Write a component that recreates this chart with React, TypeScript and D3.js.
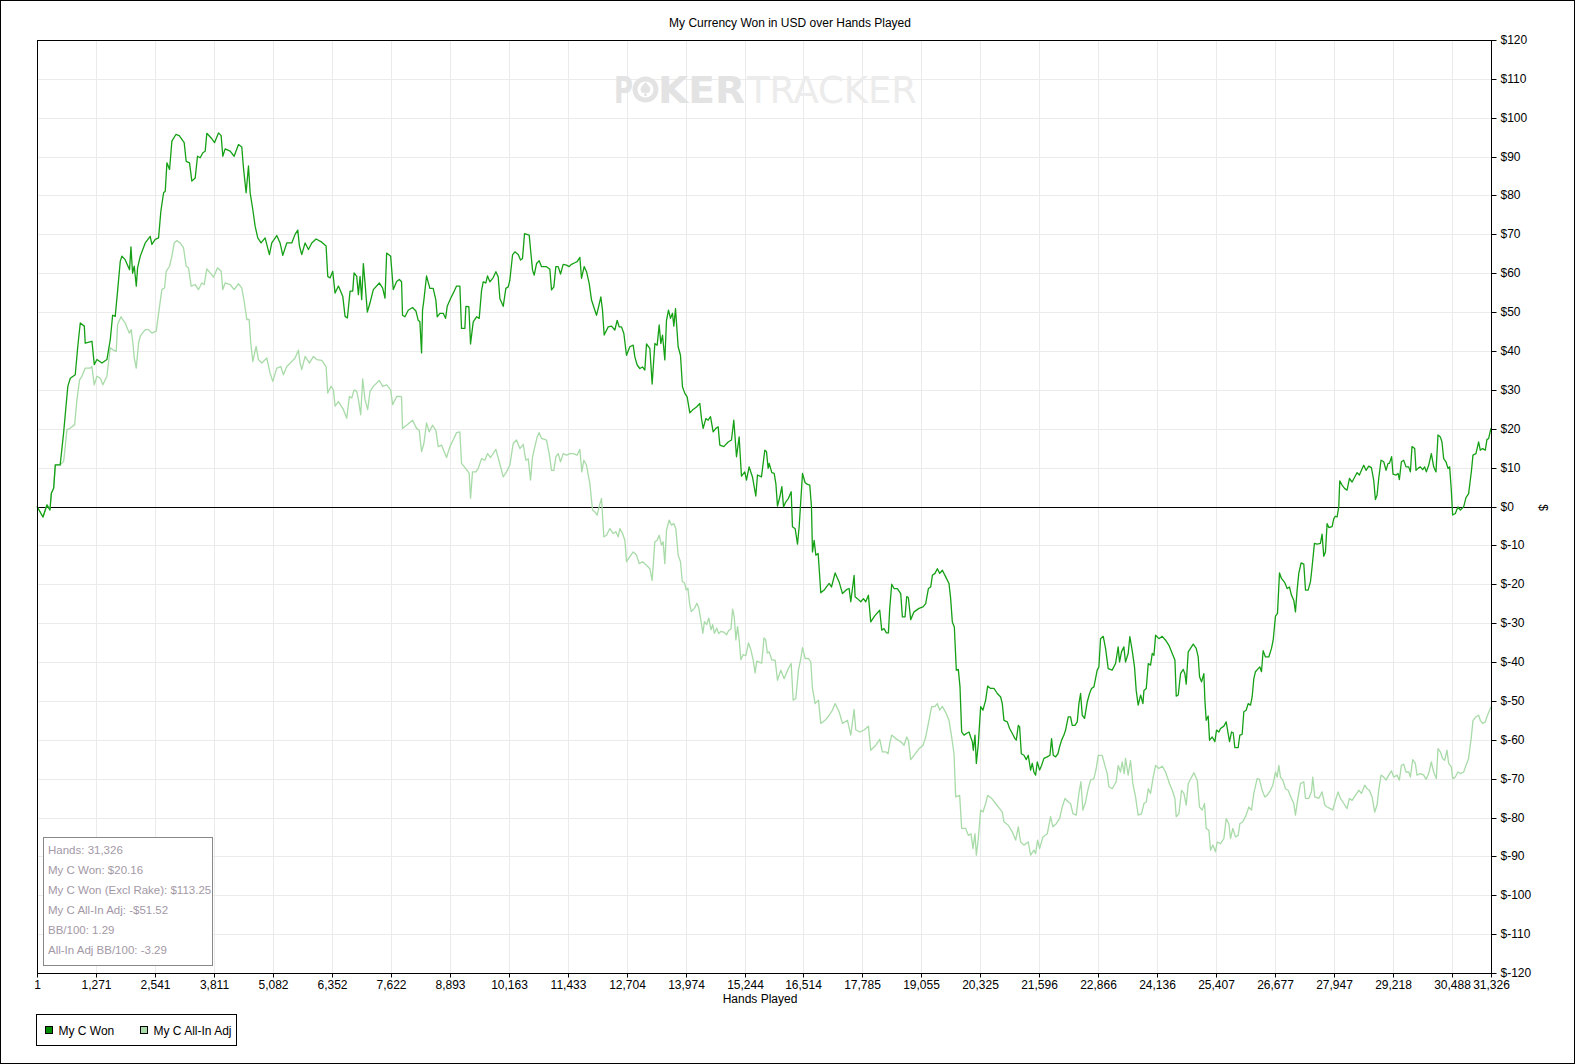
import { useEffect, useRef } from 'react'
import * as d3 from 'd3'

const chartTitle = 'My Currency Won in USD over Hands Played'
const xTitle = 'Hands Played'
const yTitle = '$'

const xTicks = [1, 1271, 2541, 3811, 5082, 6352, 7622, 8893, 10163, 11433, 12704, 13974, 15244, 16514, 17785, 19055, 20325, 21596, 22866, 24136, 25407, 26677, 27947, 29218, 30488, 31326]
const yTicks = [-120, -110, -100, -90, -80, -70, -60, -50, -40, -30, -20, -10, 0, 10, 20, 30, 40, 50, 60, 70, 80, 90, 100, 110, 120]

const statsLines = [
  'Hands: 31,326',
  'My C Won: $20.16',
  'My C Won (Excl Rake): $113.25',
  'My C All-In Adj: -$51.52',
  'BB/100: 1.29',
  'All-In Adj BB/100: -3.29',
]

const seriesNames = ['My C Won', 'My C All-In Adj']

// [hand, dollars]
const wonPoints: [number, number][] = [
  [1, 0], [130, -2.7], [215, 0.4], [280, -0.9], [310, 3.4], [360, 4.7], [395, 10.7], [500, 10.7], [575, 19], [625, 25.7], [665, 30.9], [718, 33], [825, 33.9], [883, 41.6], [933, 47.2], [1020, 46.4], [1040, 42], [1185, 42.5], [1235, 36.5], [1292, 37.8], [1400, 36.9], [1507, 37.8], [1580, 42.9], [1630, 49.2], [1686, 48.9], [1737, 55.4], [1795, 63.1], [1830, 64.4], [1900, 63.5], [1995, 60.9], [2025, 66.8], [2060, 60], [2096, 61.8], [2140, 56.7], [2168, 61.4], [2226, 64.4], [2333, 67.8], [2440, 69.5], [2476, 67.4], [2548, 68.7], [2620, 69.1], [2670, 76], [2728, 80.7], [2764, 81.1], [2800, 88.4], [2857, 86.7], [2907, 94], [2993, 95.7], [3065, 95.4], [3172, 93.6], [3215, 88.8], [3287, 88.4], [3337, 83.7], [3409, 84.5], [3459, 90.1], [3517, 89.7], [3574, 91], [3624, 91.4], [3660, 96], [3768, 94.6], [3825, 93.6], [3911, 96.1], [3968, 95.4], [4004, 90.1], [4054, 92], [4162, 91.4], [4248, 90.1], [4342, 93.1], [4413, 92.5], [4449, 87.1], [4506, 80.7], [4557, 87.6], [4593, 80.7], [4650, 76.4], [4700, 72.1], [4757, 69.1], [4829, 67.8], [4915, 69.1], [5008, 64.8], [5059, 67.8], [5167, 69.7], [5238, 67.8], [5296, 64.6], [5382, 67.8], [5490, 67.8], [5561, 70], [5619, 71.1], [5655, 67], [5705, 64.8], [5777, 67.8], [5849, 66.1], [5921, 67.8], [6014, 68.8], [6136, 68], [6229, 67], [6265, 59.2], [6315, 58.8], [6372, 60.5], [6423, 54.9], [6495, 56.7], [6588, 54.1], [6638, 48.9], [6688, 48.5], [6746, 55.4], [6803, 55.4], [6832, 60.1], [6889, 59.2], [6925, 54.5], [6961, 59.2], [6996, 53.2], [7032, 62.5], [7068, 57.5], [7118, 50], [7176, 52.4], [7247, 55.8], [7376, 57.5], [7448, 56.2], [7498, 53.6], [7534, 65.2], [7620, 64.4], [7677, 55.8], [7749, 57.9], [7807, 58.4],
  [7855, 57.8], [7876, 49.2], [7927, 48.8], [7999, 50.5], [8092, 51.2], [8164, 50.3], [8214, 47.9], [8250, 47.5], [8286, 39.5], [8307, 50.5], [8336, 53.1], [8393, 59.3], [8465, 56.1], [8537, 56.1], [8594, 53.1], [8623, 48.8], [8681, 49.7], [8752, 49.7], [8803, 48.4], [8839, 51.5], [8911, 53.5], [8982, 55.2], [9040, 56.7], [9111, 56.7], [9147, 45.8], [9219, 45.8], [9241, 51.5], [9305, 51.4], [9341, 41.8], [9399, 47.5], [9470, 48.8], [9528, 48.4], [9578, 55.5], [9614, 57.8], [9671, 57.5], [9707, 59.3], [9758, 57.8], [9830, 58.9], [9887, 60.4], [9937, 59.1], [9973, 53.5], [10045, 51.5], [10102, 56.1], [10153, 56.5], [10188, 58.2], [10246, 64.7], [10296, 65.5], [10368, 64.8], [10418, 63.4], [10461, 63.8], [10504, 70.2], [10605, 69.8], [10634, 66.1], [10677, 60.8], [10713, 59.5], [10763, 62.5], [10820, 63.2], [10871, 61.7], [10978, 61.7], [11050, 61], [11086, 55.7], [11136, 56.5], [11179, 61.7], [11230, 61.7], [11280, 59.8], [11337, 62.3], [11409, 62.1], [11466, 61.7], [11517, 62.3], [11588, 62.7], [11639, 63], [11696, 64.1], [11732, 58.7], [11789, 61.7], [11840, 60.4], [11897, 57.4], [11948, 53.1], [12019, 50.5], [12055, 49.2], [12091, 50.9], [12149, 53.9], [12184, 50.5], [12220, 44.1], [12307, 46.2], [12378, 46.4], [12450, 45.4], [12500, 47.9], [12543, 46.2], [12594, 46.2], [12644, 44.5], [12701, 38.9], [12773, 41.1], [12845, 41.5], [12881, 38.5], [12931, 36.4], [12989, 35.5], [13046, 35.9], [13096, 35.1], [13132, 41.8], [13204, 40.7], [13254, 31.5], [13312, 41.9], [13362, 41.5], [13405, 46.7], [13441, 41.9], [13477, 44.1], [13527, 37.7], [13563, 47.9], [13606, 50.5], [13649, 48.4], [13692, 49.7], [13721, 46.4], [13757, 50.9], [13814, 41.1], [13864, 38.9], [13907, 30.8], [13958, 29.1], [14008, 28.2], [14065, 24.1], [14123, 24.8], [14209, 25.6], [14281, 26.5], [14317, 22.6], [14353, 20.1], [14410, 22.6], [14460, 22.2], [14511, 23.1], [14568, 19.2], [14626, 20.1], [14676, 20.5], [14712, 15.8], [14798, 15.4], [14891, 16.6], [14963, 17.1], [15013, 22.2], [15071, 12.8], [15128, 17.9], [15178, 7.8], [15250, 8.9], [15286, 6.8], [15343, 10.2], [15415, 7.6], [15487, 2.7], [15523, 8.1], [15609, 7.6], [15681, 14.5], [15717, 14.1], [15753, 9.8],
  [15775, 11.1], [15832, 8.7], [15883, 8.5], [15919, 5.9], [15954, 0.1], [16005, 2.5], [16048, 5.1], [16084, -0.1], [16134, 1.2], [16191, 2.1], [16249, 3.8], [16277, -5.2], [16335, -5.7], [16385, -9.7], [16421, -5.2], [16457, 1.6], [16493, 8.5], [16550, 6.1], [16600, 5.7], [16650, 5.5], [16686, -0.1], [16708, -11.7], [16744, -8.7], [16780, -12.5], [16830, -12.1], [16887, -22.2], [16959, -21.5], [17009, -20.7], [17067, -19.8], [17117, -20.7], [17196, -17.1], [17282, -19.4], [17354, -22.4], [17440, -21.4], [17497, -21.1], [17533, -24.5], [17605, -17.7], [17626, -23.2], [17676, -23.7], [17748, -24.5], [17805, -23.7], [17856, -24.5], [17913, -22.8], [17963, -29.7], [18057, -28], [18157, -26.7], [18200, -31.8], [18250, -31.4], [18301, -32.5], [18344, -32.5], [18372, -26.2], [18415, -20], [18466, -21.1], [18537, -21.1], [18609, -22.4], [18645, -28.4], [18702, -28.4], [18738, -23.2], [18774, -23.4], [18824, -29.1], [18896, -27.1], [19004, -26.2], [19090, -25.8], [19147, -25], [19205, -21.1], [19255, -20.7], [19291, -17.7], [19348, -17.2], [19398, -16], [19449, -17.2], [19506, -16.4], [19578, -18.1], [19649, -19.8], [19685, -23.7], [19721, -29.7], [19764, -31], [19807, -42.1], [19850, -41.9], [19886, -46.4], [19922, -58], [19972, -58.8], [20023, -58.4], [20080, -58], [20116, -59.3], [20152, -60.5], [20173, -62.7], [20209, -58.8], [20238, -66.1], [20281, -61], [20331, -51.5], [20381, -52.4], [20439, -49.8], [20482, -46.2], [20546, -46.8], [20618, -46.8], [20690, -48.1], [20762, -49], [20797, -50.7], [20833, -55], [20905, -55.4], [20955, -57.1], [21013, -58.4], [21070, -59.7], [21099, -60.1], [21142, -56.3], [21171, -56.7], [21207, -63.6], [21264, -64], [21314, -65.1], [21357, -64], [21407, -67.8], [21443, -66.1], [21479, -68.3], [21515, -69.1], [21551, -65.7], [21601, -67.8], [21644, -66.6], [21694, -64.8], [21766, -64.4], [21824, -64], [21859, -59.7], [21895, -64], [21946, -64.4], [21996, -63.6], [22032, -61.8], [22075, -60.1], [22125, -58.8], [22161, -57.5], [22218, -54.1], [22268, -54.1], [22304, -56.3], [22362, -56.3], [22412, -55.4], [22448, -50.7], [22484, -48.1], [22520, -53.7], [22570, -54.5], [22627, -50.3], [22677, -48.1], [22720, -46.8], [22771, -46.4], [22842, -42.1], [22878, -41.3], [22914, -34], [22972, -33.4], [23022, -36.5], [23079, -41.7], [23165, -42.1], [23237, -40.4], [23294, -36.1], [23323, -40], [23366, -37.4], [23416, -36.1], [23452, -40], [23509, -37.8], [23545, -33.5], [23596, -37], [23646, -41.3], [23682, -47.3], [23725, -51.1],
  [23777, -48.5], [23827, -50.7], [23849, -47.3], [23899, -46.8], [23942, -40.4], [23992, -40.8], [24028, -37.8], [24064, -38.3], [24100, -33.1], [24172, -34], [24243, -33.4], [24315, -34.4], [24387, -35.7], [24459, -37.8], [24516, -39.5], [24545, -48.8], [24588, -48.5], [24638, -43], [24695, -41.9], [24731, -43], [24760, -45.7], [24803, -37.4], [24853, -36.5], [24911, -35.4], [24975, -36.5], [25018, -38.7], [25047, -43.8], [25090, -45.1], [25140, -43], [25162, -49.8], [25190, -55], [25233, -53.9], [25262, -60.1], [25320, -59.3], [25377, -60.5], [25413, -57.5], [25463, -58], [25499, -57.1], [25571, -56.5], [25621, -55.4], [25657, -58], [25693, -60.5], [25736, -58], [25772, -58.2], [25807, -62], [25879, -62], [25915, -58.8], [25965, -58.6], [26001, -52.8], [26051, -52.4], [26094, -50.7], [26145, -51.1], [26180, -49], [26216, -44.3], [26252, -42.5], [26310, -41.7], [26346, -41.3], [26381, -42.5], [26417, -37.1], [26468, -38.7], [26539, -38.7], [26597, -36.5], [26633, -34.4], [26683, -28.2], [26726, -27.5], [26769, -17.1], [26812, -18.5], [26884, -19.6], [26934, -21.1], [26984, -20.7], [27027, -22.8], [27077, -24.1], [27113, -27.1], [27149, -21.5], [27185, -17.2], [27235, -14.5], [27293, -14.8], [27329, -21.5], [27386, -21.5], [27436, -19.4], [27472, -15.5], [27522, -9.5], [27580, -9.7], [27651, -9.5], [27687, -7.1], [27723, -12.8], [27759, -11.7], [27795, -4.4], [27831, -5.4], [27903, -5.2], [27939, -3.1], [27974, -2.5], [28010, -2.7], [28046, -0.1], [28068, 6.6], [28118, 5.5], [28175, 4.6], [28225, 4.2], [28276, 7.2], [28333, 6.3], [28390, 7.6], [28441, 8.7], [28491, 8.1], [28534, 9.3], [28584, 10.6], [28634, 9.3], [28692, 10.4], [28749, 10], [28799, 6.8], [28835, 1.8], [28871, 2.9], [28907, 7.2], [28957, 11.9], [29015, 11.5], [29065, 9.3], [29108, 11.1], [29137, 11.1], [29185, 12.8], [29215, 8.3], [29280, 8.1], [29323, 8.5], [29352, 6.9], [29395, 11.5], [29445, 11.9], [29495, 10.2], [29553, 10.2], [29589, 8.9], [29624, 15.4], [29682, 14.9], [29711, 9.3], [29753, 9.8], [29804, 10.2], [29854, 9.5], [29897, 10.2], [29933, 8.9], [29983, 10.6], [30041, 13.6], [30091, 10.2], [30141, 8.9], [30184, 18.4], [30234, 17.9], [30270, 16.6], [30306, 12.3], [30356, 11.5], [30399, 9.8], [30435, 10.2], [30471, 4.2], [30500, -2.2], [30557, -1.8], [30614, -0.1], [30665, -0.9], [30737, -0.1], [30787, 2.3], [30844, 3.3], [30902, 8.9], [30938, 13.2], [31002, 13.6], [31059, 16.6], [31095, 14.5], [31145, 14.9], [31203, 14.5], [31239, 17.2], [31275, 17.5], [31326, 20.16],
]

const allInPoints: [number, number][] = [
  [1, 0], [130, -2.7], [215, 0.4], [280, -0.9], [310, 3.4], [360, 4.7], [395, 10.7], [500, 10.7], [575, 11.6], [610, 15.5], [646, 19.7], [718, 20.2], [811, 21], [862, 27.5], [919, 32.6], [969, 33.5], [1040, 35.6], [1148, 35.6], [1184, 36], [1234, 31.3], [1292, 33.5], [1364, 33], [1421, 31.3], [1507, 33.5], [1579, 40.8], [1636, 40.3], [1708, 39.9], [1737, 46.8], [1809, 48.8], [1902, 47.2], [1988, 44.6], [2031, 45.5], [2067, 42], [2096, 38.2], [2139, 35.6], [2189, 42], [2225, 43.8], [2333, 45.5], [2405, 45.5], [2476, 44.6], [2570, 45.1], [2641, 51.5], [2691, 55.8], [2749, 56.2], [2785, 60.5], [2857, 61.8], [2907, 64.4], [2957, 67.8], [3014, 68.4], [3086, 67.8], [3158, 66.5], [3215, 61.8], [3265, 61.4], [3322, 56.7], [3409, 57.1], [3480, 55.8], [3552, 57.5], [3602, 57.1], [3660, 61.1], [3732, 60.1], [3804, 59], [3890, 61.4], [3968, 60.5], [4004, 55.8], [4054, 57.5], [4162, 57.1], [4248, 55.8], [4342, 57.3], [4413, 56.2], [4464, 52.8], [4521, 48.1], [4571, 48.1], [4607, 42], [4650, 37.3], [4722, 41.2], [4772, 37.8], [4844, 36.9], [4951, 38.2], [5023, 34.3], [5080, 32.2], [5167, 35.6], [5253, 36], [5310, 33.9], [5382, 36], [5490, 37.3], [5561, 38.2], [5633, 40.2], [5669, 36.9], [5705, 35.2], [5777, 38.6], [5870, 36.9], [5956, 38.6], [6028, 37.8], [6136, 37.6], [6229, 36], [6265, 29.2], [6336, 30.9], [6387, 30], [6423, 25.8], [6495, 27], [6603, 24.9], [6674, 22.7], [6731, 28.3], [6782, 27.9], [6832, 30], [6889, 29.6], [6925, 27.5], [6975, 23.6], [7018, 32.8], [7068, 27.5], [7125, 24.9], [7176, 29.6], [7247, 30.9], [7376, 32.4], [7448, 30.9], [7534, 31.3], [7620, 30], [7663, 26.2], [7749, 28.3], [7821, 28.3],
  [7855, 28.2], [7876, 20.1], [7963, 20.9], [8092, 22.2], [8178, 20.1], [8235, 19.6], [8286, 14.1], [8336, 16.2], [8393, 21.5], [8451, 19.2], [8523, 20.9], [8594, 19.6], [8645, 15.4], [8716, 15.8], [8824, 12.6], [8896, 15.4], [8982, 17.5], [9040, 19], [9111, 19.2], [9147, 11.1], [9255, 9.5], [9312, 8.5], [9341, 2.1], [9384, 8.9], [9456, 8.9], [9507, 9.8], [9578, 12.3], [9650, 11.9], [9707, 13.6], [9772, 12.6], [9887, 14.7], [9951, 11.9], [10045, 7.6], [10117, 8.9], [10188, 10.6], [10260, 16.2], [10332, 17.1], [10404, 14.9], [10476, 16], [10533, 11.9], [10584, 12.3], [10634, 6.8], [10677, 12.8], [10727, 15.4], [10777, 17.9], [10820, 19], [10871, 17.5], [10978, 17.1], [11036, 13.6], [11086, 9.3], [11136, 9.3], [11179, 12.8], [11230, 13.6], [11280, 11.5], [11337, 13.6], [11409, 13.2], [11481, 13.6], [11553, 13.6], [11639, 13.2], [11696, 14.7], [11739, 8.9], [11782, 11.9], [11840, 10.6], [11912, 5.9], [11969, -0.9], [12019, -1.4], [12069, -2.2], [12113, 0], [12163, 2.1], [12213, -7.8], [12270, -7.4], [12342, -5.7], [12414, -6.9], [12472, -6.5], [12522, -7.8], [12558, -5.7], [12615, -6.9], [12666, -8.7], [12701, -14.2], [12773, -12.9], [12845, -11.7], [12917, -12.5], [12974, -14.7], [13046, -14.2], [13132, -15.1], [13204, -16], [13254, -19], [13312, -9.1], [13362, -8.7], [13405, -7.4], [13455, -9.9], [13491, -9.1], [13527, -14.7], [13563, -6.1], [13620, -3.5], [13671, -4.8], [13721, -4.4], [13764, -5.7], [13814, -12.5], [13864, -14.2],
  [13903, -19.3], [13953, -19.7], [13989, -21.5], [14024, -21], [14060, -24.9], [14096, -27], [14167, -26.2], [14217, -24.9], [14260, -26.2], [14309, -29.6], [14345, -32.6], [14381, -29.6], [14431, -30.4], [14473, -28.7], [14523, -31.7], [14559, -30.4], [14595, -32.6], [14645, -31.3], [14687, -32.7], [14737, -32.1], [14809, -32.4], [14859, -33], [14901, -31.9], [14951, -31.5], [14987, -26.4], [15022, -28.3], [15058, -34.3], [15094, -30.9], [15129, -34.3], [15165, -39.4], [15215, -38.1], [15272, -38.4], [15329, -35.1], [15379, -36.8], [15429, -39.4], [15472, -42.8], [15507, -39.8], [15571, -40.1], [15614, -40.3], [15664, -33.8], [15700, -34.3], [15735, -37.7],
  [15775, -37.4], [15832, -39.5], [15904, -39.5], [15954, -44.7], [16026, -42.1], [16098, -44.3], [16170, -42.1], [16249, -40.4], [16292, -49.8], [16349, -49.4], [16406, -42.1], [16457, -39.1], [16493, -36.3], [16550, -39.1], [16622, -39.1], [16672, -40], [16708, -46.8], [16765, -50.7], [16837, -49.8], [16887, -55.8], [16980, -55], [17067, -53.7], [17138, -52.4], [17196, -50.7], [17282, -52.8], [17354, -55.8], [17461, -55], [17533, -58.8], [17605, -52.2], [17641, -57.5], [17727, -58], [17820, -57.5], [17913, -56.5], [17963, -62.7], [18071, -61.4], [18157, -59.9], [18214, -63.1], [18286, -63.1], [18336, -63.6], [18372, -61], [18415, -58.8], [18501, -59.7], [18609, -60.5], [18681, -61.4], [18738, -59.3], [18774, -60.1], [18824, -65.1], [18896, -64], [19004, -62.3], [19090, -61.4], [19147, -59.3], [19205, -55.8], [19276, -51.5], [19341, -51.5], [19398, -50.7], [19449, -52.4], [19506, -51.4], [19592, -53.3], [19649, -55], [19707, -59.3], [19757, -63.6], [19793, -74.7], [19879, -74.3], [19922, -82.8], [20008, -82.8], [20066, -84.6], [20123, -84.2], [20166, -88], [20209, -84.2], [20238, -89.7], [20281, -85.4], [20331, -78.1], [20381, -78.6], [20439, -76.4], [20482, -74.3], [20568, -75.1], [20654, -76.4], [20740, -77.7], [20797, -78.6], [20833, -81.1], [20926, -82], [21013, -83.7], [21085, -85.8], [21142, -82.4], [21192, -86.3], [21264, -87.1], [21357, -86.3], [21407, -89.7], [21479, -88.4], [21515, -89.3], [21558, -85.8], [21601, -88], [21673, -85], [21766, -84.2], [21838, -79.8], [21888, -82.4], [21960, -81.6], [22032, -80.3], [22089, -77.3], [22147, -75.1], [22218, -76], [22268, -76.4], [22319, -79], [22390, -79.4], [22448, -73.8], [22491, -70.8], [22534, -78.1], [22591, -76], [22648, -72.6], [22699, -70.4], [22771, -70], [22821, -67.4], [22864, -64], [22950, -64], [23007, -66.6], [23058, -68.7], [23094, -72.1], [23165, -72.6], [23251, -70.8], [23294, -66.6], [23344, -68.3], [23380, -65.7], [23424, -68.7], [23452, -64.8], [23509, -69.1], [23560, -65.3], [23610, -71.3], [23668, -74.7], [23725, -79.4],
  [23798, -79], [23849, -76.4], [23899, -76], [23942, -72.6], [23992, -73.8], [24042, -70], [24100, -66.6], [24172, -67.4], [24243, -66.8], [24315, -68.3], [24401, -71.3], [24459, -73], [24516, -75.1], [24545, -79.8], [24602, -79], [24659, -73], [24710, -73.8], [24760, -76.8], [24803, -71.3], [24875, -69.6], [24925, -68.5], [24997, -70.4], [25047, -77.3], [25104, -78.1], [25154, -76.4], [25190, -82.8], [25248, -83.3], [25284, -88.4], [25334, -87.1], [25391, -88.8], [25427, -86.3], [25499, -86.7], [25571, -85.4], [25621, -80.3], [25678, -81.6], [25714, -85.4], [25764, -82.8], [25822, -85], [25879, -84.6], [25915, -81.6], [25979, -81.1], [26051, -79.4], [26109, -77.3], [26166, -78.1], [26216, -73.8], [26288, -70], [26338, -70.2], [26396, -73], [26453, -74.7], [26503, -74.3], [26575, -73], [26625, -71.7], [26683, -68.3], [26719, -69.6], [26755, -66.6], [26790, -69.6], [26841, -70.4], [26898, -72.6], [26955, -73], [27027, -75.1], [27077, -76.4], [27113, -79.4], [27171, -74.7], [27221, -71.3], [27293, -70.8], [27329, -75.1], [27400, -75.1], [27458, -73.4], [27486, -69.6], [27529, -74.7], [27615, -75.1], [27687, -73.4], [27745, -76.8], [27795, -77.3], [27867, -77.7], [27917, -78.1], [27974, -75.6], [28032, -73.4], [28082, -75.1], [28154, -76.4], [28225, -77.7], [28276, -75.1], [28333, -75.6], [28405, -74.3], [28477, -73], [28534, -73.8], [28606, -71.7], [28656, -72.6], [28706, -73], [28764, -74.7], [28821, -78.6], [28871, -76.8], [28907, -73], [28957, -69.1], [29015, -69.6], [29065, -70.4], [29123, -69.1], [29180, -68], [29230, -69.6], [29302, -69.1], [29352, -70.4], [29395, -66.6], [29445, -66.3], [29495, -68.3], [29553, -68.3], [29589, -69.6], [29639, -65.1], [29696, -66.1], [29732, -69.1], [29804, -68.7], [29876, -69.1], [29926, -70.2], [29983, -68.7], [30041, -65.7], [30091, -68.3], [30148, -70], [30184, -62.3], [30234, -63.1], [30284, -64.8], [30328, -65.3], [30378, -62.7], [30414, -66.1], [30471, -67], [30500, -70], [30557, -69.6], [30614, -68.3], [30665, -68.7], [30737, -68.3], [30787, -66.6], [30844, -64.8], [30902, -59.3], [30938, -55], [31002, -54.1], [31059, -53.7], [31095, -55], [31145, -55.8], [31203, -55.4], [31239, -54.1], [31326, -51.52],
]

const WON_COLOR = '#15a015'
const ALLIN_COLOR = '#a8dba8'
const FONT = 'Liberation Sans, Arial, sans-serif'

export default function App() {
  const svgRef = useRef<SVGSVGElement>(null)

  useEffect(() => {
    if (!svgRef.current) return
    const svg = d3.select(svgRef.current)
    svg.selectAll('*').remove()

    const W = 1575
    const H = 1064
    const plot = { left: 37, right: 1491, top: 40, bottom: 973 }

    svg.attr('width', W).attr('height', H)

    svg.append('rect')
      .attr('x', 0.5).attr('y', 0.5)
      .attr('width', W - 1).attr('height', H - 1)
      .attr('fill', '#fff').attr('stroke', '#000')

    const x = d3.scaleLinear().domain([1, 31326]).range([plot.left, plot.right])
    const y = d3.scaleLinear().domain([-120, 120]).range([plot.bottom, plot.top])
    const px = (v: number) => Math.round(x(v)) + 0.5
    const py = (v: number) => Math.round(y(v)) + 0.5

    // title
    svg.append('text')
      .attr('x', 790).attr('y', 26.5)
      .attr('text-anchor', 'middle')
      .style('font-family', FONT).style('font-size', '12px')
      .attr('fill', '#000')
      .text(chartTitle)

    // grid
    const grid = svg.append('g')
    grid.selectAll('line.v').data(xTicks).join('line')
      .attr('x1', d => px(d)).attr('x2', d => px(d))
      .attr('y1', plot.top).attr('y2', plot.bottom)
      .attr('stroke', '#ebebeb')
    grid.selectAll('line.h').data(yTicks).join('line')
      .attr('class', 'h')
      .attr('x1', plot.left).attr('x2', plot.right)
      .attr('y1', d => py(d)).attr('y2', d => py(d))
      .attr('stroke', '#ebebeb')

    // watermark
    const wm = svg.append('g').style('font-family', 'DejaVu Sans Condensed, DejaVu Sans, sans-serif')
    wm.append('text').attr('x', 614).attr('y', 103)
      .attr('textLength', 19).attr('lengthAdjust', 'spacingAndGlyphs')
      .style('font-size', '37px').style('font-weight', 'bold').attr('fill', '#e3e3e3').text('P')
    wm.append('circle').attr('cx', 645.5).attr('cy', 89.5).attr('r', 13).attr('fill', '#e3e3e3')
    wm.append('circle').attr('cx', 645.5).attr('cy', 89.5).attr('r', 8).attr('fill', '#fff')
    wm.append('path')
      .attr('d', 'M645.5,82 C650,87 652,89 649,92.5 C647.5,93.5 646.5,93 646,92 L647,96 L644,96 L645,92 C644.5,93 643.5,93.5 642,92.5 C639,89 641,87 645.5,82 Z')
      .attr('fill', '#e3e3e3')
    wm.append('text').attr('x', 658).attr('y', 103)
      .attr('textLength', 87).attr('lengthAdjust', 'spacingAndGlyphs')
      .style('font-size', '37px').style('font-weight', 'bold').attr('fill', '#e3e3e3').text('KER')
    wm.append('text').attr('x', 747).attr('y', 103)
      .attr('textLength', 170).attr('lengthAdjust', 'spacingAndGlyphs')
      .style('font-size', '37px').attr('fill', '#ececec').text('TRACKER')

    // zero line
    svg.append('line')
      .attr('x1', plot.left).attr('x2', plot.right)
      .attr('y1', py(0)).attr('y2', py(0))
      .attr('stroke', '#000')

    // series
    const line = d3.line<[number, number]>()
      .x(d => x(d[0]))
      .y(d => y(d[1]))

    svg.append('path')
      .datum(allInPoints)
      .attr('fill', 'none')
      .attr('stroke', ALLIN_COLOR)
      .attr('stroke-width', 1.3)
      .attr('stroke-linejoin', 'round')
      .attr('d', line)

    svg.append('path')
      .datum(wonPoints)
      .attr('fill', 'none')
      .attr('stroke', WON_COLOR)
      .attr('stroke-width', 1.3)
      .attr('stroke-linejoin', 'round')
      .attr('d', line)

    // plot frame
    svg.append('rect')
      .attr('x', plot.left + 0.5).attr('y', plot.top + 0.5)
      .attr('width', plot.right - plot.left).attr('height', plot.bottom - plot.top)
      .attr('fill', 'none').attr('stroke', '#000')

    // x axis
    const xAxis = svg.append('g')
      .attr('transform', `translate(0,${plot.bottom + 0.5})`)
      .call(d3.axisBottom(x).tickValues(xTicks).tickSize(4).tickSizeOuter(0).tickFormat(d => d3.format(',')(d as number)))
    xAxis.select('.domain').remove()
    xAxis.selectAll('.tick').attr('transform', d => `translate(${px(d as number)},0)`)
    xAxis.selectAll('.tick line').attr('stroke', '#000')
    xAxis.selectAll('.tick text')
      .attr('y', 7).attr('dy', '0.71em')
      .attr('fill', '#000')
      .style('font-family', FONT).style('font-size', '12px')

    // y axis on the right
    const yAxis = svg.append('g')
      .attr('transform', `translate(${plot.right + 0.5},0)`)
      .call(d3.axisRight(y).tickValues(yTicks).tickSize(5).tickSizeOuter(0).tickFormat(d => `$${d}`))
    yAxis.select('.domain').remove()
    yAxis.selectAll('.tick').attr('transform', d => `translate(0,${py(d as number)})`)
    yAxis.selectAll('.tick line').attr('stroke', '#000')
    yAxis.selectAll('.tick text')
      .attr('x', 9)
      .attr('fill', '#000')
      .style('font-family', FONT).style('font-size', '12px')

    svg.append('text')
      .attr('transform', `translate(1543,${py(0)}) rotate(90)`)
      .attr('text-anchor', 'middle').attr('dy', '0.35em')
      .style('font-family', FONT).style('font-size', '12px')
      .text(yTitle)

    svg.append('text')
      .attr('x', (plot.left + plot.right) / 2 - 4).attr('y', 1003)
      .attr('text-anchor', 'middle')
      .style('font-family', FONT).style('font-size', '12px')
      .text(xTitle)

    // stats box
    const stats = svg.append('g')
    stats.append('rect')
      .attr('x', 43.5).attr('y', 837.5).attr('width', 169).attr('height', 128)
      .attr('fill', '#fff').attr('stroke', '#888')
    stats.selectAll('text').data(statsLines).join('text')
      .attr('x', 48).attr('y', (_, i) => 854 + i * 19.9)
      .attr('fill', '#a398a6')
      .style('font-family', FONT).style('font-size', '11.5px')
      .text(d => d)

    // legend
    const legend = svg.append('g')
    legend.append('rect')
      .attr('x', 36.5).attr('y', 1014.5).attr('width', 200).attr('height', 31)
      .attr('fill', '#fff').attr('stroke', '#000')
    const items = legend.selectAll('g.item').data(seriesNames).join('g')
      .attr('transform', (_, i) => `translate(${i === 0 ? 45.5 : 140.5},1026.5)`)
    items.append('rect')
      .attr('width', 7).attr('height', 7)
      .attr('fill', (_, i) => (i === 0 ? '#008a00' : ALLIN_COLOR))
      .attr('stroke', '#000')
    items.append('text')
      .attr('x', 13).attr('y', 8)
      .style('font-family', FONT).style('font-size', '12px')
      .attr('fill', '#000')
      .text(d => d)
  }, [])

  return (
    <div style={{ position: 'absolute', left: 0, top: 0 }}>
      <svg ref={svgRef}></svg>
    </div>
  )
}
